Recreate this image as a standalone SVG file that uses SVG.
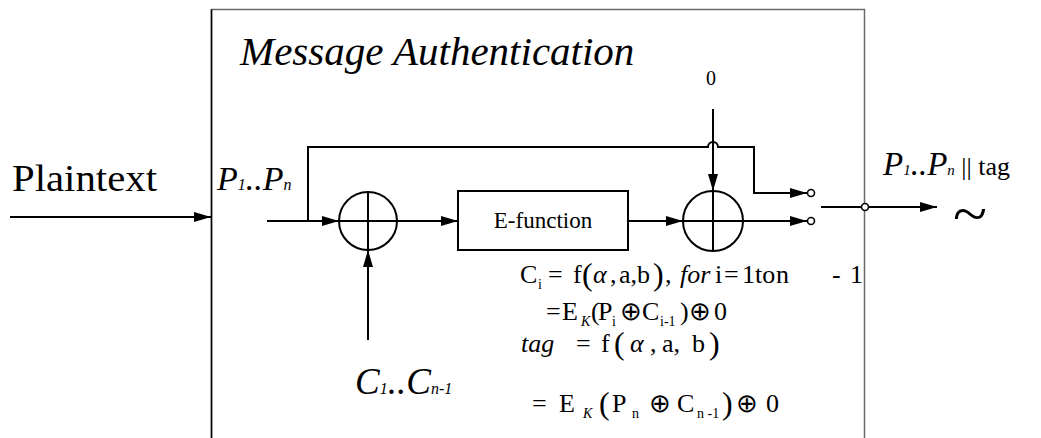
<svg xmlns="http://www.w3.org/2000/svg" width="1041" height="438" viewBox="0 0 1041 438">
<style>
.ln{fill:none;stroke:#000;stroke-width:2}
.nd{fill:#fff;stroke:#000;stroke-width:2}
.sw{fill:#fff;stroke:#000;stroke-width:1.6}
</style>
<defs>
<marker id="ah" viewBox="0 0 17 10" refX="17" refY="5" markerWidth="17" markerHeight="10" markerUnits="userSpaceOnUse" orient="auto">
<path d="M0,0 L17,5 L0,10 z" fill="#000"/>
</marker>
</defs>
<rect width="1041" height="438" fill="#fff"/>
<g id="frame">
<path d="M211.5,440 V9.5 H864.5 V440" fill="none" stroke="#6a6a6a" stroke-width="1.5"/>
<path d="M211.5,440 V9.5" fill="none" stroke="#000" stroke-width="1.5"/>
<text x="240" y="65" font-size="41" font-family="Liberation Serif" font-style="italic">Message Authentication</text>
</g>
<g id="labels">
<text x="12" y="191" font-size="38" font-family="Liberation Serif" textLength="145" lengthAdjust="spacingAndGlyphs">Plaintext</text>
<text x="217" y="190" font-size="34" font-family="Liberation Serif" font-style="italic">P<tspan font-size="16">1</tspan>..P<tspan font-size="16">n</tspan></text>
<text x="355" y="394" font-size="37" font-family="Liberation Serif" font-style="italic">C<tspan font-size="16">1</tspan>..C<tspan font-size="16">n-1</tspan></text>
<text x="711" y="85" font-size="20" font-family="Liberation Serif" text-anchor="middle">0</text>
<text x="883" y="175" font-size="33" font-family="Liberation Serif" font-style="italic">P<tspan font-size="15">1</tspan>..P<tspan font-size="15">n</tspan><tspan font-style="normal" font-size="26"> || tag</tspan></text>
<text x="953" y="233" font-size="56" font-family="Liberation Serif" textLength="34" lengthAdjust="spacingAndGlyphs">~</text>
</g>
<g id="xor1">
<circle class="nd" cx="368" cy="221" r="29"/>
<path class="ln" d="M368,192 V250 M339,221 H397"/>
</g>
<g id="efunction">
<rect class="nd" x="458" y="191" width="170" height="59"/>
<text x="543" y="228" font-size="23" font-family="Liberation Serif" text-anchor="middle">E-function</text>
</g>
<g id="xor2">
<circle class="nd" cx="713" cy="221" r="30"/>
<path class="ln" d="M713,191 V251 M683,221 H743"/>
</g>
<g id="connectors">
<path class="ln" d="M10,217 H211" marker-end="url(#ah)"/>
<path class="ln" d="M267,221 H339" marker-end="url(#ah)"/>
<path class="ln" d="M397,221 H458" marker-end="url(#ah)"/>
<path class="ln" d="M628,221 H683" marker-end="url(#ah)"/>
<path class="ln" d="M743,221 H807" marker-end="url(#ah)"/>
<path class="ln" d="M308,221 V147 H708 A5,5 0 0 1 718,147 H754 V193 H807" marker-end="url(#ah)"/>
<path class="ln" d="M713,109 V191" stroke-width="1.5" marker-end="url(#ah)"/>
<path class="ln" d="M368,340 V250" marker-end="url(#ah)"/>
<path class="ln" d="M821,207 H861.5 M868.5,207 H937" marker-end="url(#ah)"/>
</g>
<g id="switch">
<circle class="sw" cx="811" cy="193" r="3.5"/>
<circle class="sw" cx="811" cy="221" r="3.5"/>
<circle class="sw" cx="865" cy="207" r="3.5"/>
</g>
<g id="equations">
<text font-family="Liberation Serif" font-size="26" y="283"><tspan x="520">C</tspan><tspan font-size="14" x="538" y="289">i</tspan><tspan x="548" y="283">=</tspan><tspan x="573">f</tspan><tspan font-size="32" x="582" y="285">(</tspan><tspan font-style="italic" x="593" y="283">α</tspan><tspan x="610">,</tspan><tspan x="619">a,b</tspan><tspan font-size="32" x="653" y="285">)</tspan><tspan x="665" y="283">,</tspan><tspan font-style="italic" x="680">for</tspan><tspan x="715">i</tspan><tspan x="724">=</tspan><tspan x="742">1</tspan><tspan x="755">to</tspan><tspan x="776">n</tspan><tspan x="832">-</tspan><tspan x="850">1</tspan></text>
<text font-family="Liberation Serif" font-size="26" y="320"><tspan x="546">=</tspan><tspan x="562">E</tspan><tspan font-size="14" font-style="italic" x="581" y="326">K</tspan><tspan x="591" y="320">(</tspan><tspan x="598">P</tspan><tspan font-size="14" x="612" y="326">i</tspan><tspan x="620" y="320">⊕</tspan><tspan x="642">C</tspan><tspan font-size="14" x="660" y="326">i-1</tspan><tspan x="680" y="320">)</tspan><tspan x="689">⊕</tspan><tspan x="714">0</tspan></text>
<text font-family="Liberation Serif" font-size="26" y="352"><tspan font-style="italic" x="521">tag</tspan><tspan x="576">=</tspan><tspan x="601">f</tspan><tspan font-size="32" x="614" y="354">(</tspan><tspan font-style="italic" x="630" y="352">α</tspan><tspan x="650">,</tspan><tspan x="662">a,</tspan><tspan x="692">b</tspan><tspan font-size="32" x="709" y="354">)</tspan></text>
<text font-family="Liberation Serif" font-size="26" y="412"><tspan x="532">=</tspan><tspan x="559">E</tspan><tspan font-size="14" font-style="italic" x="583" y="418">K</tspan><tspan font-size="32" x="599" y="414">(</tspan><tspan x="612" y="412">P</tspan><tspan font-size="14" x="632" y="418">n</tspan><tspan x="649" y="412">⊕</tspan><tspan x="677">C</tspan><tspan font-size="14" x="697" y="418">n -1</tspan><tspan font-size="32" x="722" y="414">)</tspan><tspan x="736" y="412">⊕</tspan><tspan x="766">0</tspan></text>
</g>
</svg>
